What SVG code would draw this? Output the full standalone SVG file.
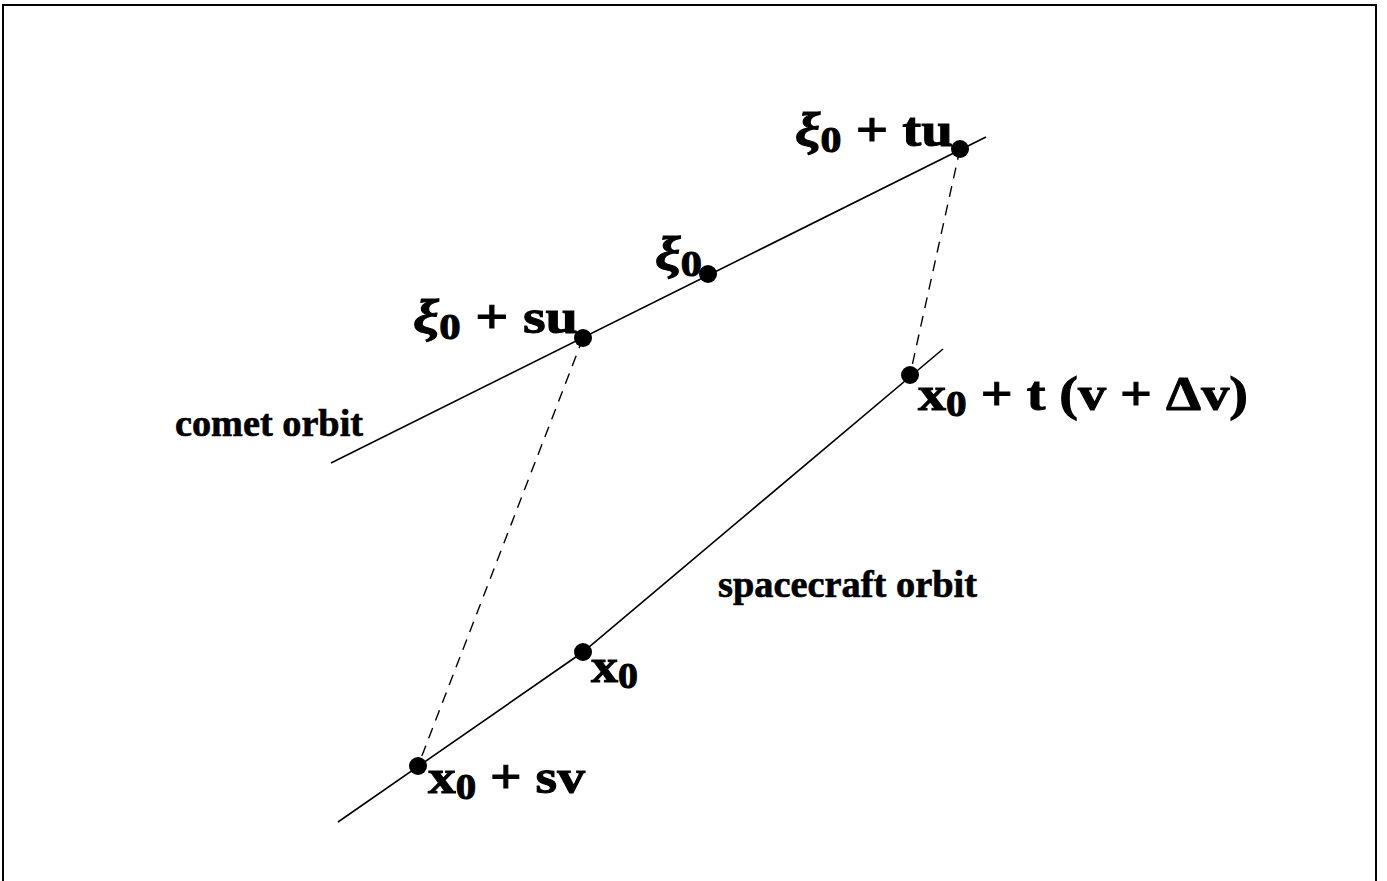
<svg xmlns="http://www.w3.org/2000/svg" width="1387" height="881" viewBox="0 0 1387 881">
<style>
.orbit{stroke:#000;stroke-width:1.6;fill:none}
.dash{stroke:#000;stroke-width:1.4;fill:none;stroke-dasharray:11 8}
.dot{fill:#000}
.lbl{font-family:"Liberation Serif","Times New Roman",serif;font-weight:bold;fill:#000;stroke:#000}
.m{font-size:49px;stroke-width:1}
.o{font-size:37px;stroke-width:0.6}
.xi{font-style:italic}
.sub{font-size:36px}
</style>
<rect x="3" y="5" width="1373" height="895" fill="#fff" stroke="#000" stroke-width="2"/>
<g id="connectors">
<line class="orbit" x1="331" y1="463" x2="986" y2="137"/>
<polyline class="orbit" points="338,822 583,652 943,349"/>
<line class="dash" x1="583" y1="338" x2="418" y2="766"/>
<line class="dash" x1="960" y1="149" x2="910" y2="375"/>
</g>
<g id="comet-label"><text class="lbl o" x="175" y="436" textLength="188" lengthAdjust="spacingAndGlyphs">comet orbit</text></g>
<g id="spacecraft-label"><text class="lbl o" x="718" y="597" textLength="259" lengthAdjust="spacingAndGlyphs">spacecraft orbit</text></g>
<g id="xi0-tu">
<circle class="dot" cx="960" cy="149" r="9"/>
<text class="lbl m" x="795" y="146" textLength="158" lengthAdjust="spacingAndGlyphs"><tspan class="xi">ξ</tspan><tspan class="sub" dy="6">0</tspan><tspan dy="-6"> + tu</tspan></text>
</g>
<g id="xi0">
<circle class="dot" cx="708" cy="274" r="9"/>
<text class="lbl m" x="655" y="270" textLength="47" lengthAdjust="spacingAndGlyphs"><tspan class="xi">ξ</tspan><tspan class="sub" dy="6">0</tspan></text>
</g>
<g id="xi0-su">
<circle class="dot" cx="583" cy="338" r="9"/>
<text class="lbl m" x="413" y="333" textLength="165" lengthAdjust="spacingAndGlyphs"><tspan class="xi">ξ</tspan><tspan class="sub" dy="6">0</tspan><tspan dy="-6"> + su</tspan></text>
</g>
<g id="x0-tv">
<circle class="dot" cx="910" cy="375" r="9"/>
<text class="lbl m" x="918" y="410" textLength="330" lengthAdjust="spacingAndGlyphs">x<tspan class="sub" dy="6">0</tspan><tspan dy="-6"> + t (v + Δv)</tspan></text>
</g>
<g id="x0">
<circle class="dot" cx="583" cy="652" r="9"/>
<text class="lbl m" x="591" y="682" textLength="47" lengthAdjust="spacingAndGlyphs">x<tspan class="sub" dy="6">0</tspan></text>
</g>
<g id="x0-sv">
<circle class="dot" cx="418" cy="766" r="9"/>
<text class="lbl m" x="428" y="793" textLength="157" lengthAdjust="spacingAndGlyphs">x<tspan class="sub" dy="6">0</tspan><tspan dy="-6"> + sv</tspan></text>
</g>
</svg>
